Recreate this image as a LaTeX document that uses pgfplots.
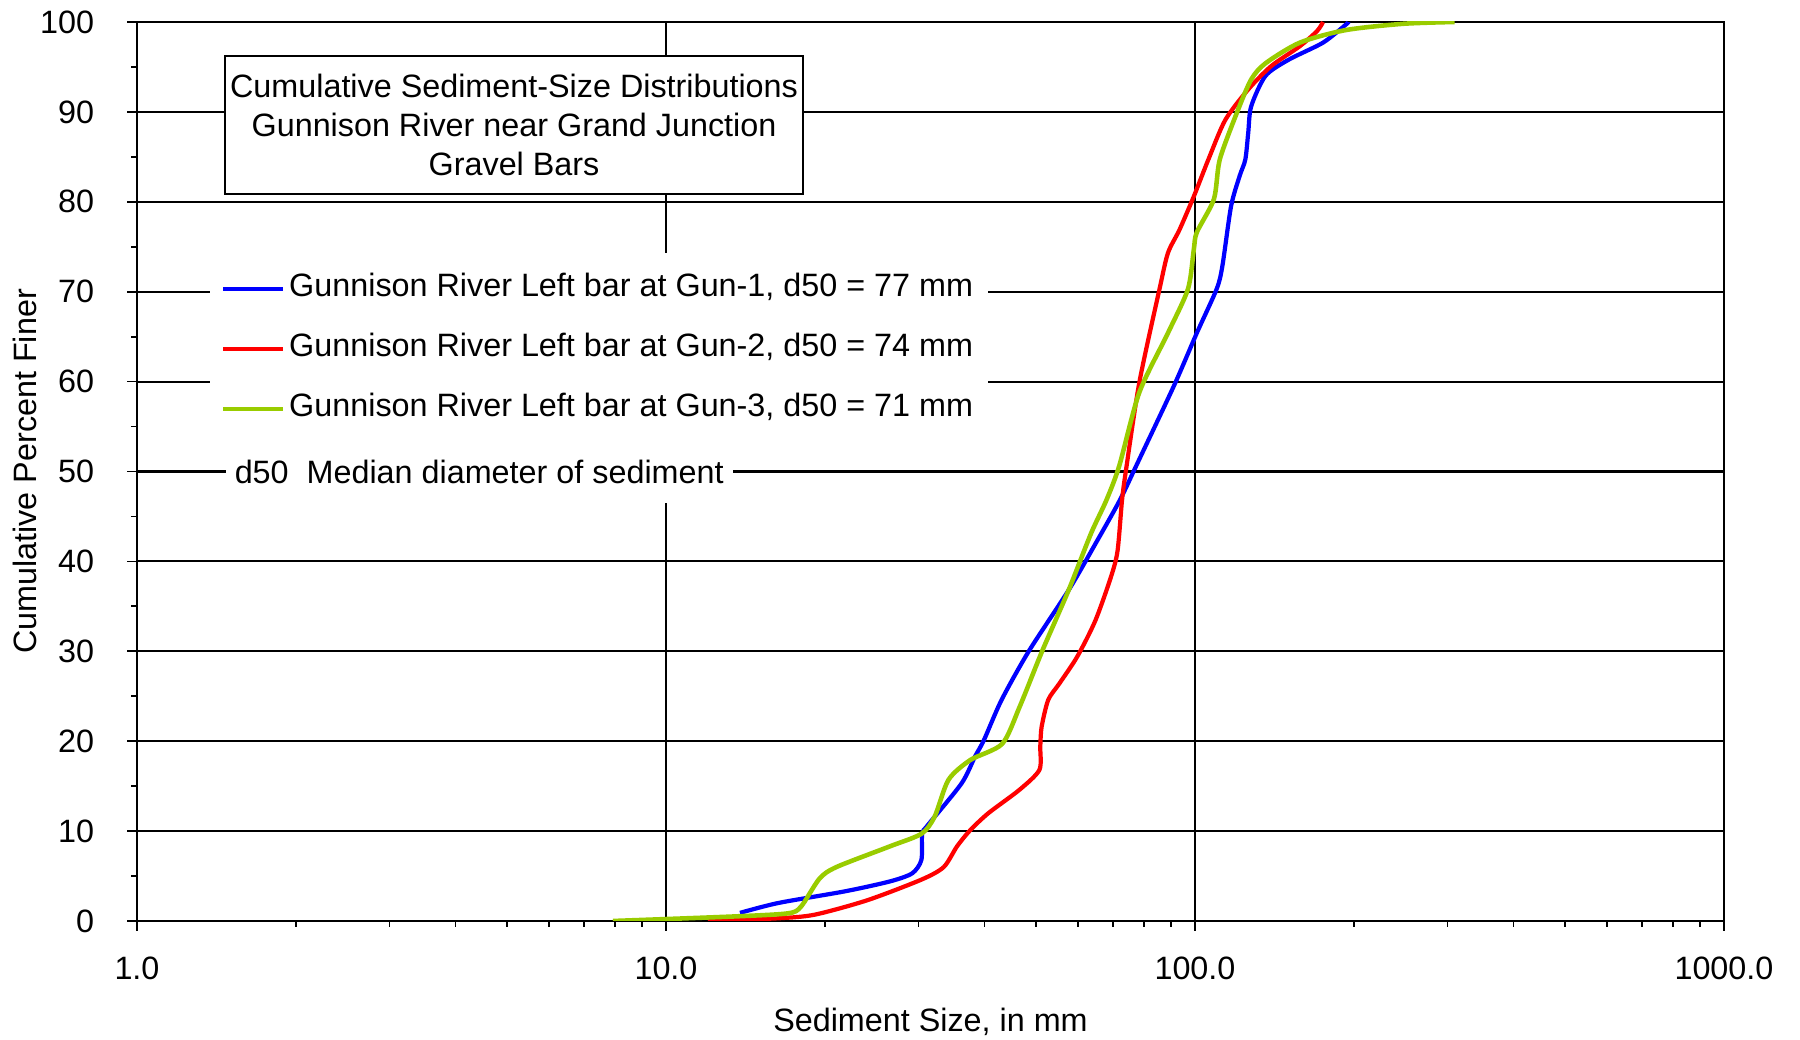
\documentclass[border=0pt]{standalone}
\usepackage{fontspec}
\setmainfont{Liberation Sans}
\usepackage{pgfplots}
\pgfplotsset{compat=1.18}
\definecolor{gunblue}{RGB}{0,0,255}
\definecolor{gunred}{RGB}{255,0,0}
\definecolor{gungreen}{RGB}{153,204,0}

\begin{document}
\begin{tikzpicture}[font=\fontsize{9.2}{11.1}\selectfont]
\path[use as bounding box] (-13.7mm,-11.9mm) rectangle (166.3mm,92.1mm);
\begin{axis}[
    at={(0,0)}, anchor=south west,
    scale only axis, width=158.7mm, height=89.9mm,
    xmode=log, xmin=1, xmax=1000, ymin=0, ymax=100,
    xtick={1,10,100,1000}, xticklabels={1.0,10.0,100.0,1000.0},
    ytick={0,10,...,100}, minor y tick num=1,
    tick pos=left, tick align=outside,
    major tick length=1mm, minor tick length=0.6mm,
    every tick/.style={black, line width=0.5pt},
    grid=major, major grid style={black, line width=0.6pt},
    axis line style={black, line width=0.65pt},
    /pgf/number format/assume math mode=true,
    xticklabel style={anchor=center, yshift=-3.7mm},
    yticklabel style={anchor=east, xshift=-2.05mm},
    xlabel={Sediment Size, in mm},
    ylabel={Cumulative Percent Finer},
    xlabel style={at={([yshift=-10.1mm]axis description cs:0.5,0)}, anchor=center},
    ylabel style={at={([xshift=-11.2mm]axis description cs:0,0.5)}, anchor=center},
    legend style={at={(rel axis cs:0.0455,0.7442)}, anchor=north west,
        draw=none, fill=white, inner xsep=3.1pt, inner ysep=5pt, row sep=6.6pt,
        nodes={inner xsep=1.1pt, inner ysep=1pt, text height=6.5pt, text depth=2pt},
        cells={anchor=west}},
    legend cell align=left,
]
% Gun-1
\addplot[gunblue, line width=1.2pt, smooth, tension=0.45] coordinates {
(13.8,0.9) (16.3,2.0) (21.8,3.3) (26.5,4.4) (29.2,5.3) (30.4,6.8) (30.5,9.7)
(31.3,10.7) (36.2,15.3) (38.4,18.3) (39.9,20.1) (43.1,24.6) (48.5,30) (57.7,36.8)
(64.9,42) (72.1,46.8) (77.4,50.6) (91.2,59.5) (100.8,65.4) (109.9,70.3)
(112.7,72.9) (117.0,79.5) (121.5,82.9) (124.5,84.7) (126.1,87.7) (127.7,90.6)
(135.9,94.0) (150.3,95.8) (174.6,97.7) (192.8,99.7) (195,100)
};
% Gun-2
\addplot[gunred, line width=1.2pt, smooth, tension=0.45] coordinates {
(12.0,0) (16.3,0.3) (19.1,0.7) (24.0,2.3) (30.4,4.6) (33.5,6.0) (35.5,8.3)
(37.6,10.1) (40.7,12.0) (46.6,14.6) (50.8,16.8) (51.0,19.4) (51.3,21.6)
(52.8,24.6) (55.4,26.4) (59.9,29.4) (64.8,33.4) (69.4,38.3) (71.4,41.2)
(72.8,46.8) (74.0,50) (78.5,59.9) (85.7,70.3) (88.9,74.3) (93.5,76.9)
(99.5,80.6) (106.0,84.7) (114.1,89.1) (126.1,92.5) (139.4,95.1) (157.8,97.3)
(170.2,99.0) (174.6,100)
};
% Gun-3
\addplot[gungreen, line width=1.3pt, smooth, tension=0.45] coordinates {
(7.94,0) (13.4,0.5) (17.0,0.85) (18.0,1.6) (19.5,4.7) (21.0,6.0) (26.5,8.3)
(30.4,9.7) (32.2,11.6) (34.2,15.7) (37.6,17.9) (43.2,19.7) (46.6,23.8)
(51.4,30) (57.7,36.8) (63.6,43.1) (68.0,46.8) (71.9,50.6) (78.5,58.8)
(88.9,65.4) (97.0,70.3) (99.5,74.7) (100.8,76.6) (108.6,80.3) (111.4,84.7)
(120.0,89.9) (127.7,93.6) (135.9,95.4) (157.8,97.7) (192.8,99.1) (247.7,99.8)
(309.7,100)
};
\legend{Gunnison River Left bar at Gun-1{,} d50 = 77 mm,
        Gunnison River Left bar at Gun-2{,} d50 = 74 mm,
        Gunnison River Left bar at Gun-3{,} d50 = 71 mm}

\node[draw=black, line width=0.65pt, fill=white, align=center,
      minimum width=57.8mm, minimum height=13.8mm, inner sep=0pt]
  at (rel axis cs:0.2376,0.8855)
  {Cumulative Sediment-Size Distributions\\Gunnison River near Grand Junction\\Gravel Bars};
\node[fill=white, anchor=west, inner xsep=0.9mm, minimum height=6.4mm]
  at (rel axis cs:0.0555,0.5) {d50\ \ Median diameter of sediment};
\end{axis}
\end{tikzpicture}
\end{document}
